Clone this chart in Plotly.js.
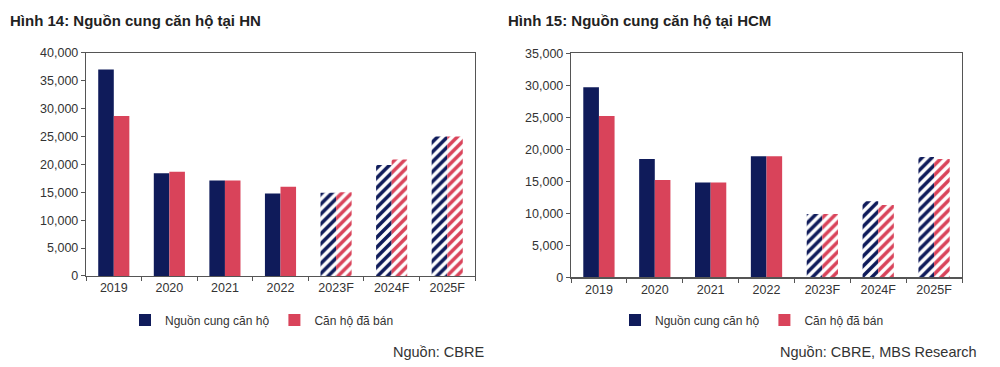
<!DOCTYPE html>
<html><head><meta charset="utf-8">
<script src="https://cdn.plot.ly/plotly-3.0.1.min.js"></script>
<style>html,body{margin:0;padding:0;background:#fff}#chart{width:1000px;height:367px}</style>
</head><body><div id="chart"></div>
<script>
const categories = ['2019','2020','2021','2022','2023F','2024F','2025F'];
const hnSupply = [37000, 18400, 17100, 14800, 14900, 19900, 25000];
const hnSold   = [28700, 18700, 17100, 16000, 15000, 20900, 25000];
const hcmSupply = [29700, 18500, 14800, 18900, 9900, 11900, 18800];
const hcmSold   = [25200, 15200, 14800, 18900, 9900, 11300, 18500];
const patternShapes = ['', '', '', '', '/', '/', '/'];
const seriesNames = ['Nguồn cung căn hộ', 'Căn hộ đã bán'];
const titles = ['Hình 14: Nguồn cung căn hộ tại HN', 'Hình 15: Nguồn cung căn hộ tại HCM'];
const sources = ['Nguồn: CBRE', 'Nguồn: CBRE, MBS Research'];

const NAVY = '#0f1b5a', RED = '#d9435a';
function bar(y, name, color, xa, ya, leg) {
  return {type:'bar', x:categories, y:y, name:name, xaxis:xa, yaxis:ya, legend:leg,
    marker:{color:color, line:{width:0},
      pattern:{shape:patternShapes, fgcolor:color, bgcolor:'#ffffff', size:7, solidity:0.5, fillmode:'replace'}},
    hoverinfo:'skip'};
}
const data = [
  bar(hnSupply, seriesNames[0], NAVY, 'x', 'y', 'legend'),
  bar(hnSold, seriesNames[1], RED, 'x', 'y', 'legend'),
  bar(hcmSupply, seriesNames[0], NAVY, 'x2', 'y2', 'legend2'),
  bar(hcmSold, seriesNames[1], RED, 'x2', 'y2', 'legend2')
];
const tickFont = {family:'Liberation Sans, Arial, sans-serif', size:12.5, color:'#333'};
function xax(domain, anchor){ return {domain:domain, anchor:anchor, type:'category', showline:true, linecolor:'#555', linewidth:1.2, mirror:true,
  ticks:'outside', tickson:'boundaries', ticklen:4, tickcolor:'#555', tickfont:tickFont, showgrid:false, zeroline:false, fixedrange:true}; }
function yax(domain, anchor, range, dtick){ return {domain:domain, anchor:anchor, range:range, dtick:dtick, tickformat:',d', showline:true, linecolor:'#555', linewidth:1.2, mirror:true,
  ticks:'outside', ticklen:4, tickcolor:'#555', tickfont:tickFont, showgrid:false, zeroline:false, fixedrange:true}; }
const layout = {
  width:1000, height:367, margin:{l:0,r:0,t:0,b:0}, paper_bgcolor:'#fff', plot_bgcolor:'#fff',
  barmode:'group', bargap:0.44, bargroupgap:0,
  font:{family:'Liberation Sans, Arial, sans-serif', color:'#333'},
  xaxis: xax([0.086,0.475],'y'),
  yaxis: yax([0.248,0.856],'x',[0,40000],5000),
  xaxis2: xax([0.571,0.962],'y2'),
  yaxis2: yax([0.2444,0.8548],'x2',[0,35000],5000),
  legend:{orientation:'h', x:0.262, xanchor:'center', y:0.128, yanchor:'middle', font:{size:12, color:'#333'}, itemwidth:30, bgcolor:'rgba(0,0,0,0)'},
  legend2:{orientation:'h', x:0.752, xanchor:'center', y:0.128, yanchor:'middle', font:{size:12, color:'#333'}, itemwidth:30, bgcolor:'rgba(0,0,0,0)'},
  annotations:[
    {text:'<b>'+titles[0]+'</b>', xref:'paper', yref:'paper', x:0.008, y:1-20/367, xanchor:'left', yanchor:'middle', showarrow:false, font:{size:15, color:'#222'}},
    {text:'<b>'+titles[1]+'</b>', xref:'paper', yref:'paper', x:0.506, y:1-20/367, xanchor:'left', yanchor:'middle', showarrow:false, font:{size:15, color:'#222'}},
    {text:sources[0], xref:'paper', yref:'paper', x:0.486, y:1-352/367, xanchor:'right', yanchor:'middle', showarrow:false, font:{size:14.5, color:'#333'}},
    {text:sources[1], xref:'paper', yref:'paper', x:0.979, y:1-352/367, xanchor:'right', yanchor:'middle', showarrow:false, font:{size:14.5, color:'#333'}}
  ]
};
Plotly.newPlot('chart', data, layout, {staticPlot:true, displayModeBar:false});
</script></body></html>
